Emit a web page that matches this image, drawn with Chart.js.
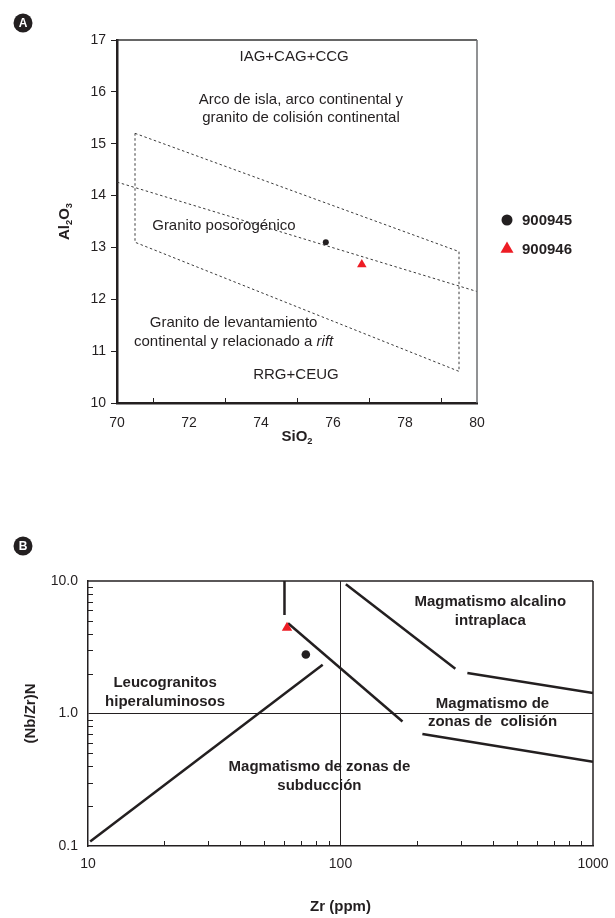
<!DOCTYPE html>
<html>
<head>
<meta charset="utf-8">
<script src="https://cdn.jsdelivr.net/npm/chart.js"></script>
<style>
  body { margin: 0; background: #fff; }
  .panel { position: absolute; left: 0; width: 615px; }
</style>
</head>
<body>
<div class="panel" style="top:0;height:470px"><canvas id="chartA"></canvas></div>
<div class="panel" style="top:500px;height:418px"><canvas id="chartB"></canvas></div>
<script>
// samples
var sampleNames = ['900945', '900946'];
var sio2 = [75.8, 76.8];
var al2o3 = [13.1, 12.67];
var zr = [72.9, 61.4];
var nbzr = [2.79, 4.44];

// panel A field boundaries (SiO2 vs Al2O3)
var boxSi = [70.5, 79.5, 79.5, 70.5, 70.5];
var boxAl = [15.2, 12.92, 10.61, 13.1, 15.2];
var midSi = [70, 80];
var midAl = [14.26, 12.15];
var siMinor = [71, 73, 75, 77, 79];

// panel B field boundaries (Zr vs (Nb/Zr)N)
var b1Zr = [60, 60],     b1R = [10, 5.55];
var b2Zr = [62, 176],    b2R = [4.8, 0.87];
var b3Zr = [10.2, 85],   b3R = [0.108, 2.33];
var b4Zr = [105, 285],   b4R = [9.45, 2.18];
var b5Zr = [318, 1000],  b5R = [2.02, 1.43];
var b6Zr = [211, 1000],  b6R = [0.70, 0.433];
var zrTicks = [10, 100, 1000];
var ratioTicks = [0.1, 1, 10];
var zrMinor = [20, 30, 40, 50, 60, 70, 80, 90, 200, 300, 400, 500, 600, 700, 800, 900];
var ratioMinor = [0.2, 0.3, 0.4, 0.5, 0.6, 0.7, 0.8, 0.9, 2, 3, 4, 5, 6, 7, 8, 9];

var ink = '#231f20';
var red = '#ed1c24';
var fam = '"Liberation Sans", Arial, Helvetica, sans-serif';

function pts(xs, ys) {
  return xs.map(function (x, i) { return { x: x, y: ys[i] }; });
}

function drawRich(ctx, parts, x, y, size, bold, rotate) {
  function font(p) {
    var s = p.sub ? size * 0.62 : size;
    return (p.italic ? 'italic ' : '') + (bold ? 'bold ' : '') + s + 'px ' + fam;
  }
  var w = 0;
  parts.forEach(function (p) { ctx.font = font(p); p.w = ctx.measureText(p.t).width; w += p.w; });
  ctx.save();
  ctx.translate(x, y);
  if (rotate) ctx.rotate(-Math.PI / 2);
  ctx.textBaseline = 'middle';
  ctx.textAlign = 'left';
  ctx.fillStyle = ink;
  var cx = -w / 2;
  parts.forEach(function (p) {
    ctx.font = font(p);
    ctx.fillText(p.t, cx, p.sub ? size * 0.32 : 0);
    cx += p.w;
  });
  ctx.restore();
}

function marker(ctx, style, x, y, r, color) {
  ctx.fillStyle = color;
  ctx.beginPath();
  if (style === 'triangle') {
    ctx.moveTo(x, y - r);
    ctx.lineTo(x + r * 0.866, y + r / 2);
    ctx.lineTo(x - r * 0.866, y + r / 2);
    ctx.closePath();
  } else {
    ctx.arc(x, y, r, 0, Math.PI * 2);
  }
  ctx.fill();
}

var decor = {
  id: 'decor',
  afterDatasetsDraw: function (chart, args, o) {
    var ctx = chart.ctx, a = chart.chartArea, sx = chart.scales.x, sy = chart.scales.y;
    ctx.save();
    // top and right frame
    ctx.lineWidth = o.frameWidth;
    ctx.strokeStyle = o.topColor;
    ctx.beginPath(); ctx.moveTo(a.left, a.top); ctx.lineTo(a.right, a.top); ctx.stroke();
    ctx.strokeStyle = o.rightColor;
    ctx.beginPath(); ctx.moveTo(a.right, a.top); ctx.lineTo(a.right, a.bottom); ctx.stroke();
    // inner minor ticks
    ctx.strokeStyle = ink;
    ctx.lineWidth = 1;
    (o.xMinor || []).forEach(function (v) {
      var p = Math.round(sx.getPixelForValue(v)) + 0.5;
      ctx.beginPath(); ctx.moveTo(p, a.bottom); ctx.lineTo(p, a.bottom - o.tickLen); ctx.stroke();
    });
    (o.yMinor || []).forEach(function (v) {
      var p = Math.round(sy.getPixelForValue(v)) + 0.5;
      ctx.beginPath(); ctx.moveTo(a.left, p); ctx.lineTo(a.left + o.tickLen, p); ctx.stroke();
    });
    // field names
    o.labels.forEach(function (l) {
      drawRich(ctx, l.parts, sx.getPixelForValue(l.x), sy.getPixelForValue(l.y), o.labelSize, o.labelBold, false);
    });
    // axis titles
    drawRich(ctx, o.xTitle, (a.left + a.right) / 2, a.bottom + o.xTitleGap, 15, true, false);
    drawRich(ctx, o.yTitle, o.yTitleX, (a.top + a.bottom) / 2, 15, true, true);
    // panel badge
    ctx.fillStyle = ink;
    ctx.beginPath(); ctx.arc(o.badge.x, o.badge.y, 9.5, 0, Math.PI * 2); ctx.fill();
    ctx.fillStyle = '#fff';
    ctx.font = 'bold 12px ' + fam;
    ctx.textAlign = 'center'; ctx.textBaseline = 'middle';
    ctx.fillText(o.badge.t, o.badge.x, o.badge.y + 1);
    // legend
    if (o.legend) {
      o.legend.forEach(function (it, i) {
        var ds = chart.data.datasets[i];
        marker(ctx, ds.pointStyle, a.right + 30, it.y, it.r, ds.backgroundColor);
        ctx.fillStyle = ink;
        ctx.font = 'bold 15px ' + fam;
        ctx.textAlign = 'left'; ctx.textBaseline = 'middle';
        ctx.fillText(ds.label, a.right + 45, it.y + 1);
      });
    }
    ctx.restore();
  }
};

var tickFont = { family: fam, size: 14 };

// ---------- Panel A ----------
new Chart(document.getElementById('chartA'), {
  type: 'scatter',
  data: {
    datasets: [
      { label: sampleNames[0], data: pts([sio2[0]], [al2o3[0]]), pointStyle: 'circle', pointRadius: 3,
        backgroundColor: ink, borderWidth: 0 },
      { label: sampleNames[1], data: pts([sio2[1]], [al2o3[1]]), pointStyle: 'triangle', pointRadius: 5.5,
        backgroundColor: red, borderWidth: 0 },
      { label: 'posorogénico', data: pts(boxSi, boxAl), showLine: true, pointRadius: 0,
        borderColor: '#3a3a3a', borderWidth: 1, borderDash: [2.5, 2.5] },
      { label: 'límite', data: pts(midSi, midAl), showLine: true, pointRadius: 0,
        borderColor: '#3a3a3a', borderWidth: 1, borderDash: [2.5, 2.5] }
    ]
  },
  options: {
    responsive: true,
    maintainAspectRatio: false,
    animation: false,
    layout: { padding: { left: 0, top: 40, right: 138, bottom: 0 } },
    plugins: {
      legend: { display: false },
      tooltip: { enabled: false },
      decor: {
        frameWidth: 1.5, topColor: '#333', rightColor: '#6d6e71',
        xMinor: siMinor, tickLen: 5,
        labelSize: 15, labelBold: false,
        labels: [
          { x: 74.92, y: 16.68, parts: [{ t: 'IAG+CAG+CCG' }] },
          { x: 75.11, y: 15.84, parts: [{ t: 'Arco de isla, arco continental y' }] },
          { x: 75.11, y: 15.49, parts: [{ t: 'granito de colisión continental' }] },
          { x: 72.97, y: 13.42, parts: [{ t: 'Granito posorogénico' }] },
          { x: 73.24, y: 11.54, parts: [{ t: 'Granito de levantamiento' }] },
          { x: 73.24, y: 11.17, parts: [{ t: 'continental y relacionado a ' }, { t: 'rift', italic: true }] },
          { x: 74.97, y: 10.54, parts: [{ t: 'RRG+CEUG' }] }
        ],
        xTitle: [{ t: 'SiO' }, { t: '2', sub: true }],
        xTitleGap: 34,
        yTitle: [{ t: 'Al' }, { t: '2', sub: true }, { t: 'O' }, { t: '3', sub: true }],
        yTitleX: 65,
        badge: { x: 23, y: 23, t: 'A' },
        legend: [{ y: 220, r: 5.5 }, { y: 249, r: 7.5 }]
      }
    },
    scales: {
      x: {
        type: 'linear', min: 70, max: 80,
        afterFit: function (s) { s.height = 67; s.paddingLeft = 0; s.paddingRight = 0; },
        grid: { display: false, drawTicks: false },
        border: { color: ink, width: 2.5 },
        ticks: { stepSize: 1, padding: 12, color: ink, font: tickFont, maxRotation: 0, autoSkip: false,
          callback: function (v) { return v % 2 === 0 ? v : ''; } }
      },
      y: {
        type: 'linear', min: 10, max: 17,
        afterFit: function (s) { s.width = 117; },
        grid: { drawOnChartArea: false, drawTicks: true, tickLength: 6, color: ink },
        border: { color: ink, width: 2.5 },
        ticks: { stepSize: 1, padding: 5, color: ink, font: tickFont }
      }
    }
  },
  plugins: [decor]
});

// ---------- Panel B ----------
var lineStyle = { showLine: true, pointRadius: 0, borderColor: ink, borderWidth: 2.5 };
function bLine(xs, ys) {
  return Object.assign({ label: '', data: pts(xs, ys) }, lineStyle);
}

new Chart(document.getElementById('chartB'), {
  type: 'scatter',
  data: {
    datasets: [
      { label: sampleNames[0], data: pts([zr[0]], [nbzr[0]]), pointStyle: 'circle', pointRadius: 4.3,
        backgroundColor: ink, borderWidth: 0 },
      { label: sampleNames[1], data: pts([zr[1]], [nbzr[1]]), pointStyle: 'triangle', pointRadius: 6,
        backgroundColor: red, borderWidth: 0 },
      bLine(b1Zr, b1R), bLine(b2Zr, b2R), bLine(b3Zr, b3R),
      bLine(b4Zr, b4R), bLine(b5Zr, b5R), bLine(b6Zr, b6R)
    ]
  },
  options: {
    responsive: true,
    maintainAspectRatio: false,
    animation: false,
    layout: { padding: { left: 0, top: 81, right: 22, bottom: 0 } },
    plugins: {
      legend: { display: false },
      tooltip: { enabled: false },
      decor: {
        frameWidth: 1.5, topColor: ink, rightColor: ink,
        xMinor: zrMinor, yMinor: ratioMinor, tickLen: 5,
        labelSize: 15, labelBold: true,
        labels: [
          { x: 392, y: 6.94, parts: [{ t: 'Magmatismo alcalino' }] },
          { x: 392, y: 4.99, parts: [{ t: 'intraplaca' }] },
          { x: 400, y: 1.18, parts: [{ t: 'Magmatismo de' }] },
          { x: 400, y: 0.863, parts: [{ t: 'zonas de  colisión' }] },
          { x: 20.2, y: 1.70, parts: [{ t: 'Leucogranitos' }] },
          { x: 20.2, y: 1.22, parts: [{ t: 'hiperaluminosos' }] },
          { x: 82.5, y: 0.395, parts: [{ t: 'Magmatismo de zonas de' }] },
          { x: 82.5, y: 0.284, parts: [{ t: 'subducción' }] }
        ],
        xTitle: [{ t: 'Zr (ppm)' }],
        xTitleGap: 61,
        yTitle: [{ t: '(Nb/Zr)N' }],
        yTitleX: 31,
        badge: { x: 23, y: 46, t: 'B' }
      }
    },
    scales: {
      x: {
        type: 'logarithmic', min: 10, max: 1000,
        afterFit: function (s) { s.height = 72; s.paddingLeft = 0; s.paddingRight = 0; },
        afterBuildTicks: function (s) { s.ticks = zrTicks.map(function (v) { return { value: v }; }); },
        grid: { drawTicks: false, lineWidth: 1,
          color: function (c) { return c.tick && c.tick.value === 100 ? ink : 'rgba(0,0,0,0)'; } },
        border: { color: ink, width: 1.5 },
        ticks: { padding: 10, color: ink, font: tickFont, maxRotation: 0, autoSkip: false,
          callback: function (v) { return String(v); } }
      },
      y: {
        type: 'logarithmic', min: 0.1, max: 10,
        afterFit: function (s) { s.width = 88; },
        afterBuildTicks: function (s) { s.ticks = ratioTicks.map(function (v) { return { value: v }; }); },
        grid: { drawTicks: false, lineWidth: 1,
          color: function (c) { return c.tick && c.tick.value === 1 ? ink : 'rgba(0,0,0,0)'; } },
        border: { color: ink, width: 1.5 },
        ticks: { padding: 10, color: ink, font: tickFont,
          callback: function (v) { return Number(v).toFixed(1); } }
      }
    }
  },
  plugins: [decor]
});
</script>
</body>
</html>
